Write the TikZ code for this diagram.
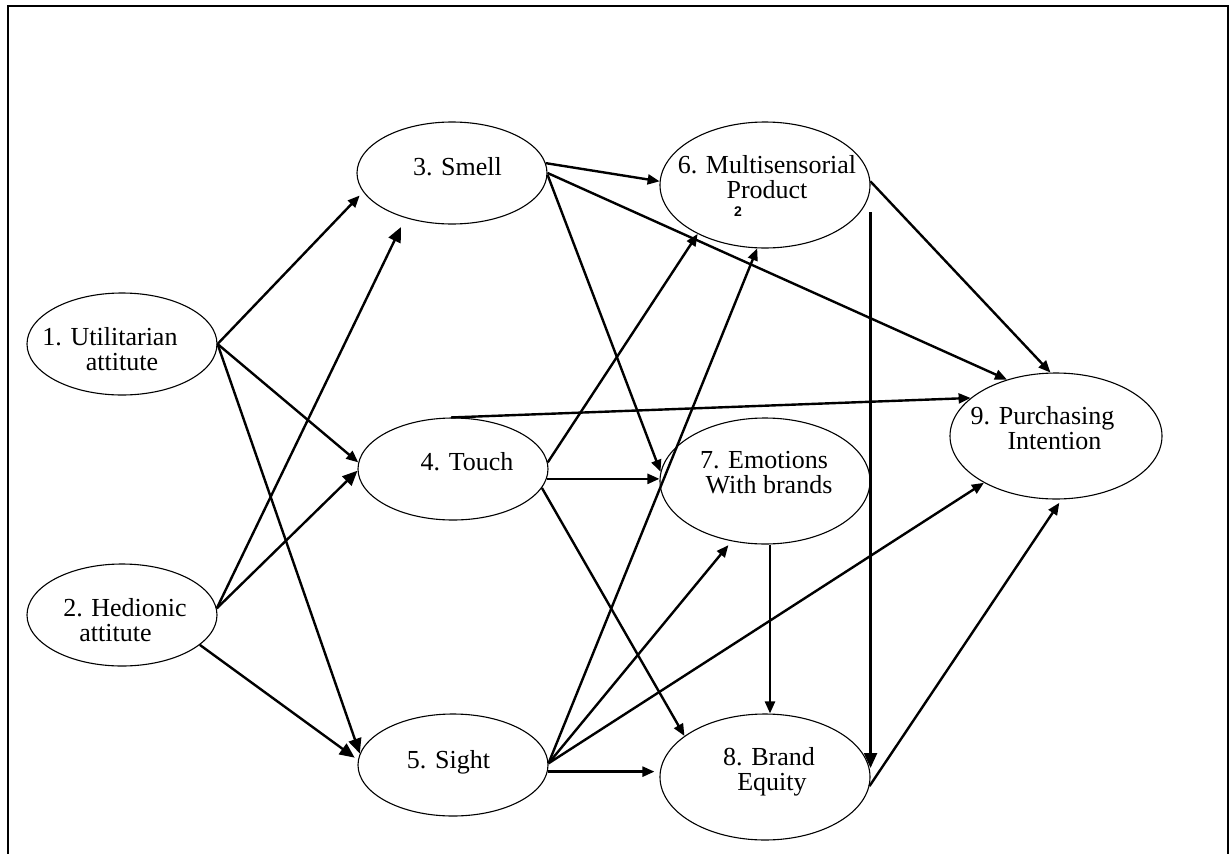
\documentclass[tikz,border=0pt]{standalone}
\usepackage{fontspec}
\setmainfont{Liberation Serif}
\newfontfamily\labelsans{Liberation Sans}
\usetikzlibrary{arrows.meta,calc,shapes.geometric}

\begin{document}
\begin{tikzpicture}[x=1pt,y=-1pt,
  oval/.style={draw, ellipse, line width=1.1pt, inner sep=0pt},
  ovalA/.style={oval, minimum width=190pt, minimum height=102pt},
  ovalB/.style={oval, minimum width=210pt, minimum height=126pt},
  txt/.style={font=\fontsize{26}{25}\selectfont, align=center, text depth=0pt, inner sep=0pt},
  conn/.style={line width=2.4pt, -{Triangle[length=12pt,width=10pt]}},
  connL/.style={line width=2.4pt, -{Triangle[length=15pt,width=13pt]}},
  frame/.style={line width=1.2pt}
]
\useasboundingbox (0,0) rectangle (1232,854);
\draw[frame] (8,854) -- (8,6) -- (1228,6) -- (1228,854);

\node[ovalA] (n1) at (122,344) {};
\node[ovalA] (n2) at (122,615) {};
\node[ovalA] (n3) at (452,173) {};
\node[ovalA] (n4) at (453,469) {};
\node[ovalA] (n5) at (453,765) {};
\node[ovalB] (n6) at (765,185) {};
\node[ovalB] (n7) at (765,481) {};
\node[ovalB] (n8) at (765,777) {};
\node[ovalB, minimum width=212pt] (n9) at (1056,436) {};

\node[txt] (t1) at (110,348.5) {1. Utilitarian\\\hspace*{24pt}attitute};
\node[txt] (t2) at (125,620) {2. Hedionic\\attitute\hspace*{19pt}};
\node[txt] (t3) at (457.5,166) {3. Smell};
\node[txt] (t4) at (467,461) {4. Touch};
\node[txt] (t5) at (448.5,759) {5. Sight};
\node[txt] (t6) at (767,176.5) {6. Multisensorial\\Product};
\node[txt] (t7) at (769,472.5) {7. Emotions\hspace*{10pt}\\With brands};
\node[txt] (t8) at (769,769) {8. Brand\\\hspace*{6pt}Equity};
\node[txt] (t9) at (1042.5,427.5) {9. Purchasing\\\hspace*{24pt}Intention};
\node[font=\labelsans\bfseries\fontsize{14}{14}\selectfont, inner sep=0pt] (sup2) at (738,212) {2};

\draw[conn, shorten >=5pt] (n1.east) -- (n3.192);
\draw[conn] (n1.east) -- (n4.176);
\draw[connL] (n1.east) -- (n5.173);
\draw[connL, shorten >=10pt] (n2.4) -- (n3.224);
\draw[connL] (n2.4) -- (n4.181);
\draw[connL, shorten >=4pt] (n2.-21) -- (n5.177);
\draw[conn] (n3.6) -- (n6.178);
\draw[conn] (n3.east) -- (n9.131);
\draw[conn] (n3.-1) -- (n7.175);
\draw[conn] (n4.4) -- (n6.216);
\draw[conn] (n4.92) -- (n9.156);
\draw[conn] (n4.-6) -- (n4.-6 -| n7.west);
\draw[conn] (n4.-12) -- (n8.153);
\draw[conn] (n5.1) -- (n6.263);
\draw[conn, shorten >=5pt] (n5.1) -- (n7.241);
\draw[conn] (n5.1) -- (n9.213);
\draw[conn] (n5.-4) -- ($(n5.-4 -| n8.west)+(-5,0)$);
\draw[conn] (n6.2) -- (n9.95);
\draw[connL] ([yshift=-27pt]n6.east) -- ([yshift=9pt]n8.east);
\draw[conn] ([xshift=5pt]n7.south) -- ([xshift=5pt]n8.north);
\draw[conn, shorten >=4pt] (n8.-5) -- (n9.-85);
\end{tikzpicture}
\end{document}
